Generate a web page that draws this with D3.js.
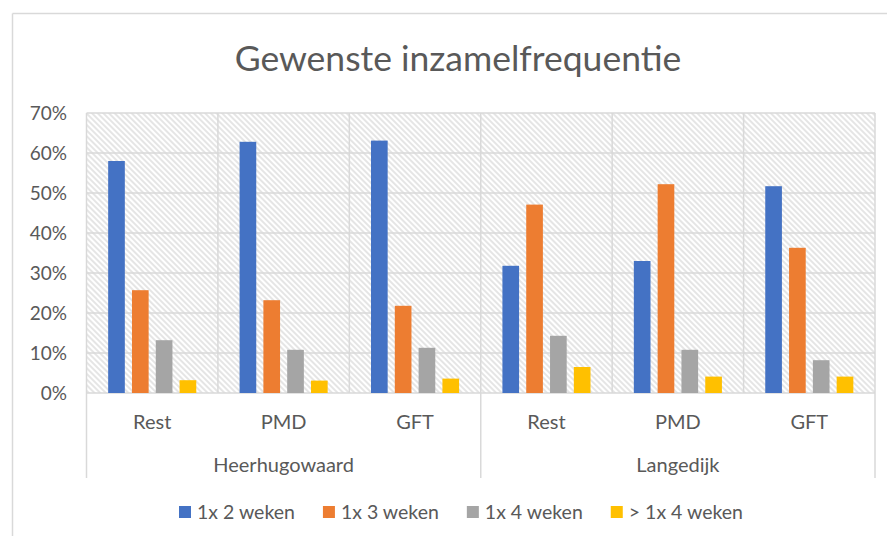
<!DOCTYPE html>
<html>
<head>
<meta charset="utf-8">
<script src="https://cdn.jsdelivr.net/npm/d3@7"></script>
<style>
  html, body { margin: 0; padding: 0; background: #fff; }
  svg { display: block; font-family: Lato, "Open Sans", sans-serif; }
</style>
</head>
<body>
<svg id="chart" width="887" height="536"></svg>
<script>
const title = "Gewenste inzamelfrequentie";
const groups = ["Heerhugowaard", "Langedijk"];
const categories = ["Rest", "PMD", "GFT"];
const seriesNames = ["1x 2 weken", "1x 3 weken", "1x 4 weken", "> 1x 4 weken"];
const seriesColors = ["#4472C4", "#ED7D31", "#A5A5A5", "#FFC000"];
// values per (group, category), in % order: Heerhugowaard Rest, PMD, GFT, Langedijk Rest, PMD, GFT
const s1 = [58.0, 62.8, 63.1, 31.8, 33.0, 51.7];
const s2 = [25.7, 23.2, 21.8, 47.1, 52.2, 36.3];
const s3 = [13.2, 10.8, 11.3, 14.3, 10.8, 8.2];
const s4 = [3.2, 3.1, 3.6, 6.5, 4.1, 4.1];
const yTicks = [0, 10, 20, 30, 40, 50, 60, 70];

const seriesValues = [s1, s2, s3, s4];
const slots = [];
groups.forEach(g => categories.forEach(c => slots.push(g + "|" + c)));

const svg = d3.select("#chart");
const textColor = "#595959";
const gridColor = "#d9d9d9";

// chart frame
svg.append("line").attr("x1", 12.5).attr("x2", 887).attr("y1", 13.5).attr("y2", 13.5)
  .attr("stroke", "#d9d9d9").attr("stroke-width", 1.5);
svg.append("line").attr("x1", 12.5).attr("x2", 12.5).attr("y1", 13.5).attr("y2", 536)
  .attr("stroke", "#d9d9d9").attr("stroke-width", 1.5);

const plot = { left: 86.5, right: 875, top: 113, bottom: 393 };

const x0 = d3.scaleBand().domain(slots).range([plot.left, plot.right]).padding(0);
const x1 = d3.scaleBand().domain(d3.range(seriesNames.length))
  .range([0, x0.bandwidth()]).paddingInner(0.3).paddingOuter(0.91);
const y = d3.scaleLinear().domain([0, 70]).range([plot.bottom, plot.top]);

// hatch pattern
const defs = svg.append("defs");
const pat = defs.append("pattern").attr("id", "hatch").attr("patternUnits", "userSpaceOnUse")
  .attr("width", 4).attr("height", 4).attr("patternTransform", "rotate(-45)");
pat.append("rect").attr("width", 4).attr("height", 4).attr("fill", "#ffffff");
pat.append("line").attr("x1", 1).attr("x2", 1).attr("y1", -1).attr("y2", 5)
  .attr("stroke", "#d4d4d4").attr("stroke-width", 1.2);

svg.append("rect").attr("x", plot.left).attr("y", plot.top)
  .attr("width", plot.right - plot.left).attr("height", plot.bottom - plot.top)
  .attr("fill", "url(#hatch)");

// horizontal gridlines
svg.append("g").selectAll("line").data(yTicks).join("line")
  .attr("x1", plot.left).attr("x2", plot.right)
  .attr("y1", d => y(d)).attr("y2", d => y(d))
  .attr("stroke", gridColor).attr("stroke-width", 1.5);

// vertical category separators inside plot
const boundaries = slots.map(s => x0(s)).concat([plot.right]);
svg.append("g").selectAll("line").data(boundaries).join("line")
  .attr("x1", d => d).attr("x2", d => d)
  .attr("y1", plot.top).attr("y2", plot.bottom)
  .attr("stroke", gridColor).attr("stroke-width", 1.5);

// group separators extending below axis
const groupBounds = [x0(slots[0]), x0(slots[categories.length]), plot.right];
svg.append("g").selectAll("line").data(groupBounds).join("line")
  .attr("x1", d => d).attr("x2", d => d)
  .attr("y1", plot.bottom).attr("y2", 478)
  .attr("stroke", gridColor).attr("stroke-width", 1.5);

// bars
const barData = [];
slots.forEach((s, i) => seriesValues.forEach((arr, k) => barData.push({ slot: s, k, v: arr[i] })));
svg.append("g").selectAll("rect").data(barData).join("rect")
  .attr("x", d => x0(d.slot) + x1(d.k))
  .attr("width", x1.bandwidth())
  .attr("y", d => y(d.v))
  .attr("height", d => y(0) - y(d.v))
  .attr("fill", d => seriesColors[d.k]);

// y axis labels
svg.append("g").selectAll("text").data(yTicks).join("text")
  .attr("x", 67).attr("y", d => y(d)).attr("dy", "0.35em")
  .attr("text-anchor", "end").attr("fill", textColor)
  .attr("font-size", 19).text(d => d + "%");

// category labels
svg.append("g").selectAll("text").data(slots).join("text")
  .attr("x", d => x0(d) + x0.bandwidth() / 2).attr("y", 422).attr("dy", "0.35em")
  .attr("text-anchor", "middle").attr("fill", textColor).attr("font-size", 20)
  .text(d => d.split("|")[1]);

// group labels
svg.append("g").selectAll("text").data(groups).join("text")
  .attr("x", (g, i) => (groupBounds[i] + groupBounds[i + 1]) / 2).attr("y", 465).attr("dy", "0.35em")
  .attr("text-anchor", "middle").attr("fill", textColor).attr("font-size", 20)
  .text(d => d);

// title
svg.append("text").attr("x", 458).attr("y", 59).attr("dy", "0.35em")
  .attr("text-anchor", "middle").attr("fill", textColor).attr("font-size", 35.5)
  .text(title);

// legend
const legend = svg.append("g");
const items = legend.selectAll("g").data(seriesNames).join("g");
items.append("rect").attr("width", 12).attr("height", 12).attr("y", -6)
  .attr("fill", (d, i) => seriesColors[i]);
items.append("text").attr("x", 18).attr("dy", "0.35em").attr("fill", textColor)
  .attr("font-size", 19.5).text(d => d);
let widths = [];
items.each(function() { widths.push(this.getBBox().width); });
const gap = 28;
const total = d3.sum(widths) + gap * (widths.length - 1);
let cx = 461 - total / 2;
items.attr("transform", (d, i) => {
  const t = `translate(${cx},512)`;
  cx += widths[i] + gap;
  return t;
});
</script>
</body>
</html>
